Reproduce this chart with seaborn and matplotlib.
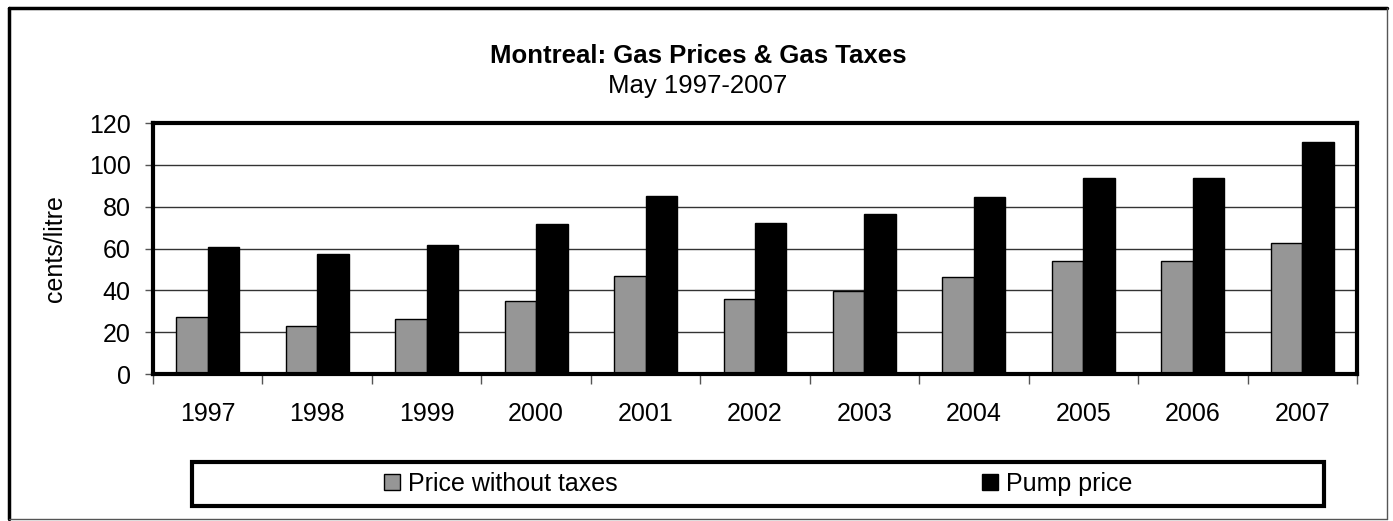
import pandas as pd
import matplotlib.pyplot as plt
import seaborn as sns
from matplotlib.patches import Rectangle
from matplotlib.lines import Line2D
from matplotlib.ticker import FixedLocator

# Data (cents/litre, May of each year)
years = ["1997", "1998", "1999", "2000", "2001", "2002", "2003", "2004", "2005", "2006", "2007"]
price_without_taxes = [27.2, 22.9, 26.4, 35.0, 46.9, 35.7, 39.7, 46.4, 54.1, 54.1, 62.6]
pump_price = [60.8, 57.6, 61.6, 71.7, 85.1, 72.2, 76.5, 84.5, 93.6, 93.6, 111.0]
series_names = ["Price without taxes", "Pump price"]
colors = ["#969696", "#000000"]

df = pd.DataFrame({
    "year": years * 2,
    "value": price_without_taxes + pump_price,
    "series": [series_names[0]] * len(years) + [series_names[1]] * len(years),
})

sns.set_style("white")
plt.rcParams["font.family"] = ["Liberation Sans", "DejaVu Sans"]
plt.rcParams["text.color"] = "black"
plt.rcParams["axes.labelcolor"] = "black"
FS = 18

W, H = 1393, 521
fig = plt.figure(figsize=(W / 100, H / 100), dpi=100)
ax = fig.add_axes([153 / W, 1 - 374 / H, 1204 / W, 251 / H])

sns.barplot(data=df, x="year", y="value", hue="series", palette=colors,
            width=0.575, edgecolor="black", linewidth=1, saturation=1, ax=ax)

ax.set_ylim(0, 120)
ax.set_xlim(-0.5, len(years) - 0.5)
ax.set_yticks(range(0, 121, 20))
ax.yaxis.grid(True, color="#333333", linewidth=1)
ax.set_axisbelow(True)

for s in ax.spines.values():
    s.set_linewidth(3)
    s.set_color("black")

ax.tick_params(axis="y", direction="out", length=6, width=1, color="#555555",
               labelcolor="black", labelsize=FS, pad=10, left=True)
ax.tick_params(axis="x", which="major", length=0, labelsize=FS, labelcolor="black", pad=20)
ax.xaxis.set_minor_locator(FixedLocator([i - 0.5 for i in range(len(years) + 1)]))
ax.tick_params(axis="x", which="minor", direction="out", length=7, width=1,
               color="#555555", bottom=True)

ax.set_xlabel("")
ax.set_ylabel("cents/litre", fontsize=FS, color="black")
ax.yaxis.set_label_coords(-0.0714, 0.5)

# legend below the plot, in a thick box
handles, labels = ax.get_legend_handles_labels()
ax.get_legend().remove()
fig.legend(handles, labels, loc="center", bbox_to_anchor=(758 / W, 1 - 484 / H),
           ncol=2, frameon=False, fontsize=FS, handlelength=0.64, handleheight=0.64,
           handletextpad=0.3, columnspacing=14.6, labelcolor="black")
fig.add_artist(Rectangle((192 / W, 1 - 506 / H), (1324 - 192) / W, (506 - 462) / H,
                         transform=fig.transFigure, fill=False, edgecolor="black",
                         linewidth=3))

# titles
fig.text(698 / W, 1 - 56 / H, "Montreal: Gas Prices & Gas Taxes", ha="center",
         va="center", fontsize=18.5, fontweight="bold", color="black")
fig.text(698 / W, 1 - 86 / H, "May 1997-2007", ha="center", va="center",
         fontsize=18.5, color="black")

# outer chart border
tf = fig.transFigure
fig.add_artist(Line2D([9 / W, 9 / W], [1 - 8 / H, 1 - 519 / H], transform=tf, color="black", lw=2.5))
fig.add_artist(Line2D([9 / W, 1387 / W], [1 - 8 / H, 1 - 8 / H], transform=tf, color="black", lw=2.5))
fig.add_artist(Line2D([1387 / W, 1387 / W], [1 - 8 / H, 1 - 519 / H], transform=tf, color="#555555", lw=1))
fig.add_artist(Line2D([9 / W, 1387 / W], [1 - 519 / H, 1 - 519 / H], transform=tf, color="#555555", lw=1))

fig.savefig("out.png", dpi=100)
